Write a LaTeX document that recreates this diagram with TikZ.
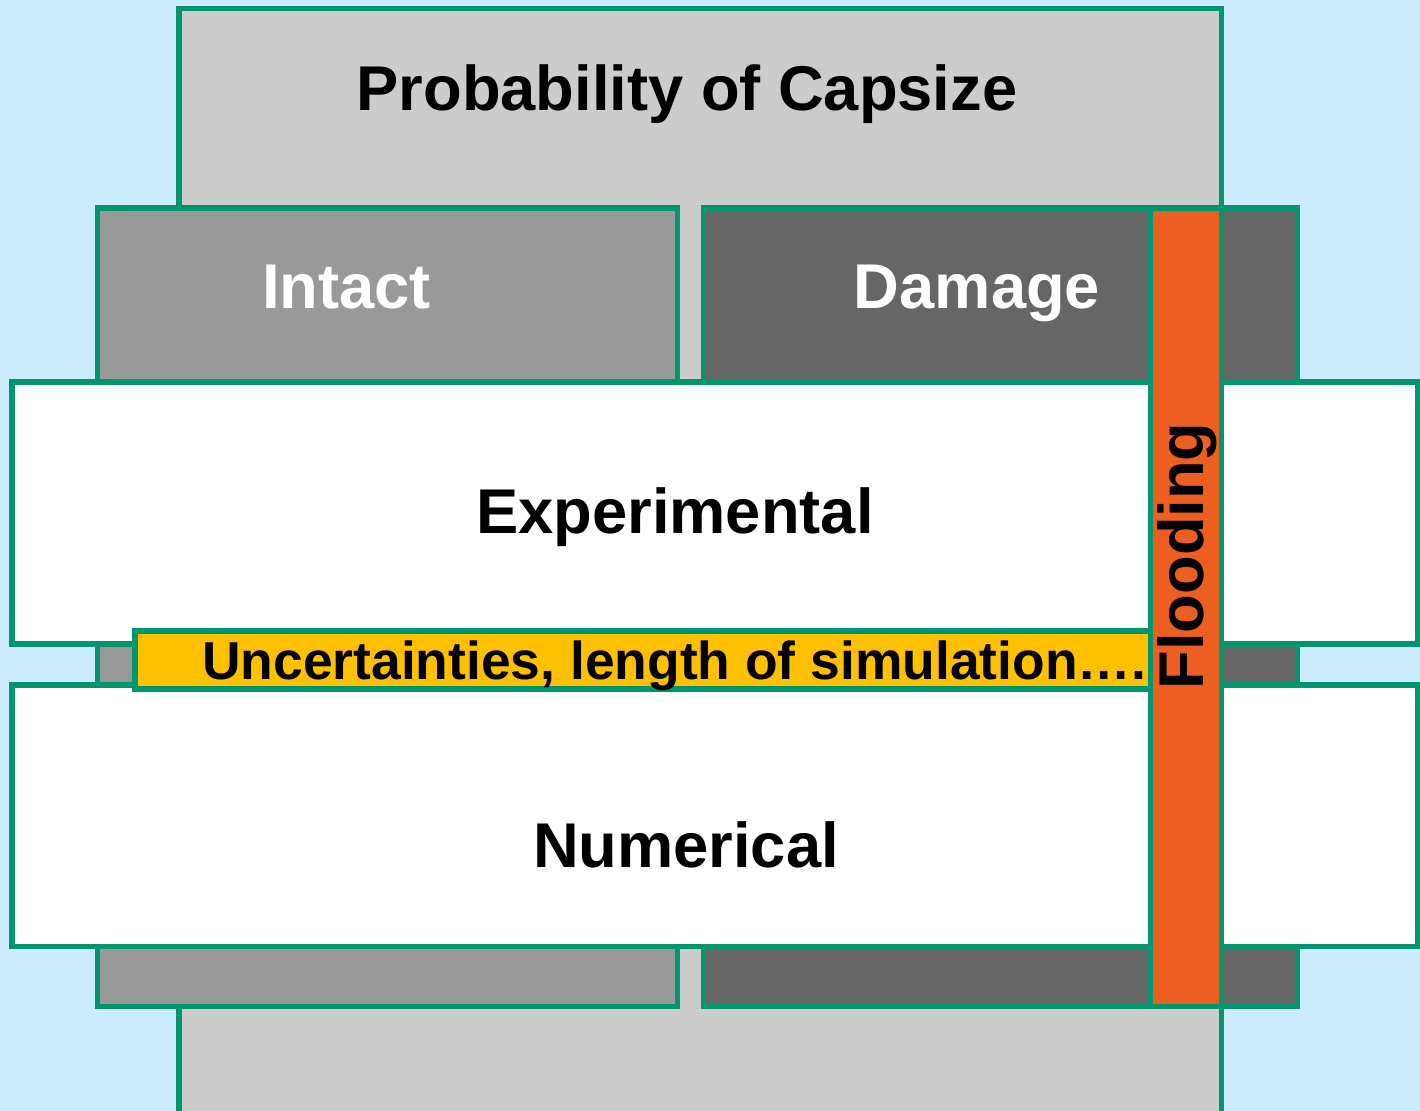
\documentclass[tikz,border=0pt]{standalone}
\usepackage{fontspec}
\setmainfont{Liberation Sans}
\usepackage{tikz}
\usetikzlibrary{positioning}
\definecolor{skyblue}{RGB}{204,235,253}
\definecolor{edgeteal}{RGB}{0,150,112}
\definecolor{capgray}{RGB}{204,204,204}
\definecolor{intactgray}{RGB}{153,153,153}
\definecolor{damagegray}{RGB}{102,102,102}
\definecolor{floodorange}{RGB}{237,95,32}
\definecolor{noteyellow}{RGB}{255,192,0}

\begin{document}
\begin{tikzpicture}[
  x=0.02cm,y=-0.02cm,
  blk/.style={draw=edgeteal,line width=2.85pt},
  lbl/.style={anchor=base,font=\fontsize{36}{40}\selectfont\bfseries},
  small/.style={anchor=base west,font=\fontsize{30.4}{34}\selectfont\bfseries},
]
\useasboundingbox (0,0) rectangle (1420,1111);
\fill[skyblue] (0,0) rectangle (1420,1111);
\clip (0,0) rectangle (1420,1111);

% Layers, back to front
\draw[blk,fill=capgray]    (179,9)      rectangle (1221,1130);
\draw[blk,fill=intactgray] (97.5,208)   rectangle (677.5,1006.5);
\draw[blk,fill=damagegray] (703.5,208)  rectangle (1297.5,1006.5);
\draw[blk,fill=white]      (12,382)     rectangle (1417.5,644);
\draw[blk,fill=white]      (12,685)     rectangle (1417.5,946);
\draw[blk,fill=noteyellow] (135,631)    rectangle (1150,689);

\node[lbl] (cap)   at (687,111)   {Probability of Capsize};
\node[lbl,white] (intact) at (346.5,309) {Intact};
\node[lbl,white] (damage) at (977,309)   {Damage};
\node[lbl] (exp)   at (675,533)   {Experimental};
\node[lbl] (num)   at (686,867)   {Numerical};
\node[small] (unc) at (196,679)   {Uncertainties, length of simulation…..};

% Flooding strip on top
\draw[blk,fill=floodorange] (1150,208) rectangle (1221.5,1006.5);
\node[lbl,rotate=90] (flood) at (1203,556) {Flooding};
\end{tikzpicture}
\end{document}
